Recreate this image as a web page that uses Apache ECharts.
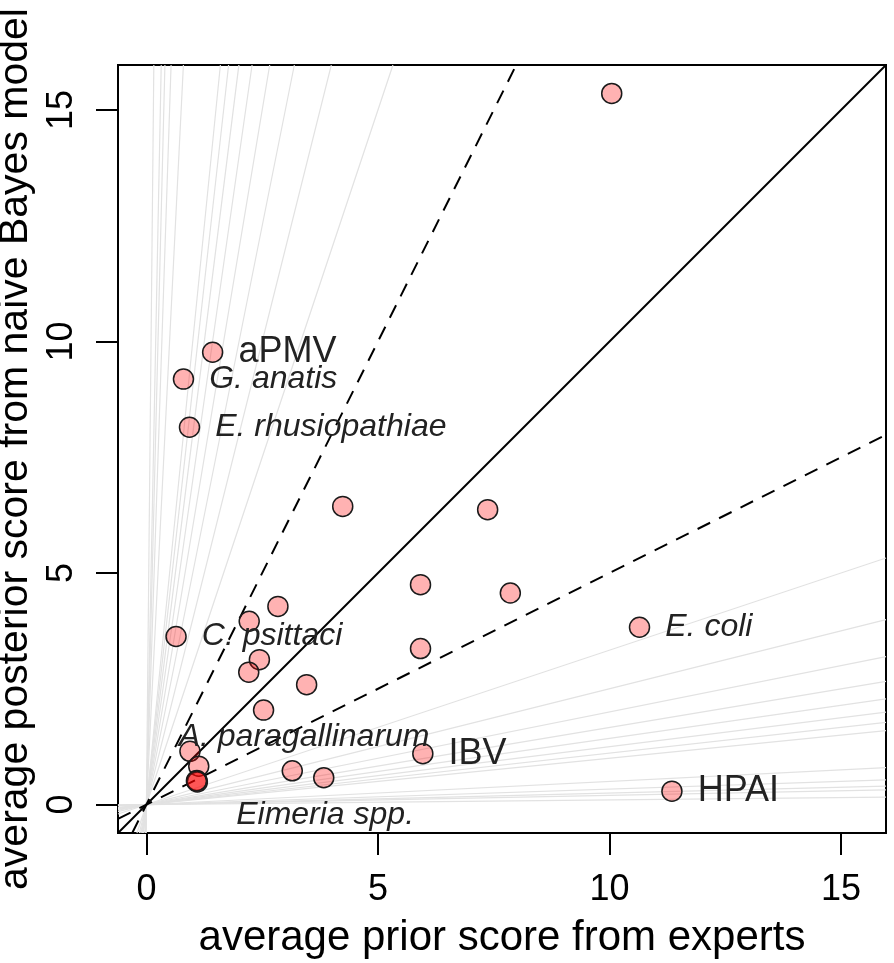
<!DOCTYPE html>
<html><head><meta charset="utf-8">
<script src="https://cdn.jsdelivr.net/npm/echarts@6/dist/echarts.min.js"></script>
<style>html,body{margin:0;padding:0;background:#fff}#c{width:894px;height:963px}</style>
</head><body><div id="c"></div>
<script>
// ---- data ----
const pathogenNames = ['', 'aPMV', 'G. anatis', 'E. rhusiopathiae', '', '', '', '', '', '', 'C. psittaci', 'E. coli', '', '', '', '', '', 'A. paragallinarum', '', '', '', 'Eimeria spp.', 'IBV', '', '', 'HPAI'];
const priorScore =     [10.05, 1.43, 0.80, 0.93, 4.24, 7.37, 5.92, 7.86, 2.84, 2.22, 0.64, 10.65, 5.92, 2.44, 2.21, 3.46, 2.53, 0.94, 1.13, 1.09, 1.10, 1.08, 5.97, 3.15, 3.83, 11.35];
const posteriorScore = [15.36, 9.77, 9.19, 8.15, 6.44, 6.37, 4.75, 4.57, 4.28, 3.96, 3.63, 3.83, 3.37, 3.13, 2.86, 2.59, 2.04, 1.15, 0.83, 0.52, 0.49, 0.51, 1.10, 0.73, 0.58, 0.29];
const uprightLabels = ['aPMV', 'IBV', 'HPAI'];
const tickValues = [0, 5, 10, 15];
const solidSlopes = [1];
const dashedSlopes = [2, 0.5];
const greySlopes = [3, 4, 5, 6, 7, 8, 9, 10, 20, 30, 40, 50, 100];
const axisMin = -0.614, axisMax = 15.974;

// ---- styling ----
const FONT = '"Liberation Sans", Arial, Helvetica, sans-serif';
const labelNudge = { 'A. paragallinarum': [-37, -14], 'Eimeria spp.': [14, 34] };

function slopeLine(s) {
  const xLo = Math.max(axisMin, axisMin / s);
  const xHi = Math.min(axisMax, axisMax / s);
  return [[xLo, xLo * s], [xHi, xHi * s]];
}

const series = [];
greySlopes.forEach(k => {
  [k, 1 / k].forEach(s => series.push({
    type: 'line', data: slopeLine(s), symbol: 'none', silent: true, z: 1,
    lineStyle: { color: '#e2e2e2', width: 1.2 }, animation: false
  }));
});
solidSlopes.forEach(s => series.push({
  type: 'line', data: slopeLine(s), symbol: 'none', silent: true, z: 2,
  lineStyle: { color: '#000', width: 2 }, animation: false
}));
dashedSlopes.forEach(s => series.push({
  type: 'line', data: slopeLine(s), symbol: 'none', silent: true, z: 2,
  lineStyle: { color: '#000', width: 2, type: [14, 10] }, animation: false
}));

series.push({
  type: 'scatter', z: 5, symbol: 'circle', symbolSize: 20, animation: false,
  itemStyle: { color: 'rgba(255,0,0,0.3)', borderColor: '#1a1a1a', borderWidth: 1.5, opacity: 1 },
  data: priorScore.map((x, i) => {
    const nm = pathogenNames[i];
    const item = { value: [x, posteriorScore[i]] };
    if (nm) {
      const upright = uprightLabels.includes(nm);
      item.label = {
        show: true, formatter: nm, position: 'right', distance: 15,
        fontSize: upright ? 36 : 32, fontFamily: FONT, color: '#222',
        fontStyle: upright ? 'normal' : 'italic',
        offset: labelNudge[nm] || [0, 0]
      };
    }
    return item;
  })
});

const chart = echarts.init(document.getElementById('c'), null, { renderer: 'canvas' });
chart.setOption({
  backgroundColor: '#fff',
  animation: false,
  grid: { left: 118, right: 8, top: 65, bottom: 130, containLabel: false, outerBoundsMode: 'none',
          show: true, borderColor: '#000', borderWidth: 2, backgroundColor: 'transparent' },
  xAxis: {
    type: 'value', min: axisMin, max: axisMax,
    axisLine: { show: false, onZero: false },
    splitLine: { show: false },
    axisTick: { show: true, customValues: tickValues, length: 22, lineStyle: { color: '#000', width: 2 } },
    axisLabel: { customValues: tickValues, fontSize: 36, color: '#000', margin: 39, fontFamily: FONT },
    name: 'average prior score from experts', nameLocation: 'middle', nameGap: 84,
    nameTextStyle: { fontSize: 42, color: '#000', fontFamily: FONT }
  },
  yAxis: {
    type: 'value', min: axisMin, max: axisMax,
    axisLine: { show: false, onZero: false },
    splitLine: { show: false },
    axisTick: { show: true, customValues: tickValues, length: 22, lineStyle: { color: '#000', width: 2 } },
    axisLabel: { customValues: tickValues, fontSize: 36, color: '#000', margin: 38, rotate: 90, fontFamily: FONT },
    name: 'average posterior score from naive Bayes model', nameLocation: 'middle', nameGap: 82, nameRotate: 90,
    nameTextStyle: { fontSize: 41, color: '#000', fontFamily: FONT }
  },
  series
});
</script></body></html>
